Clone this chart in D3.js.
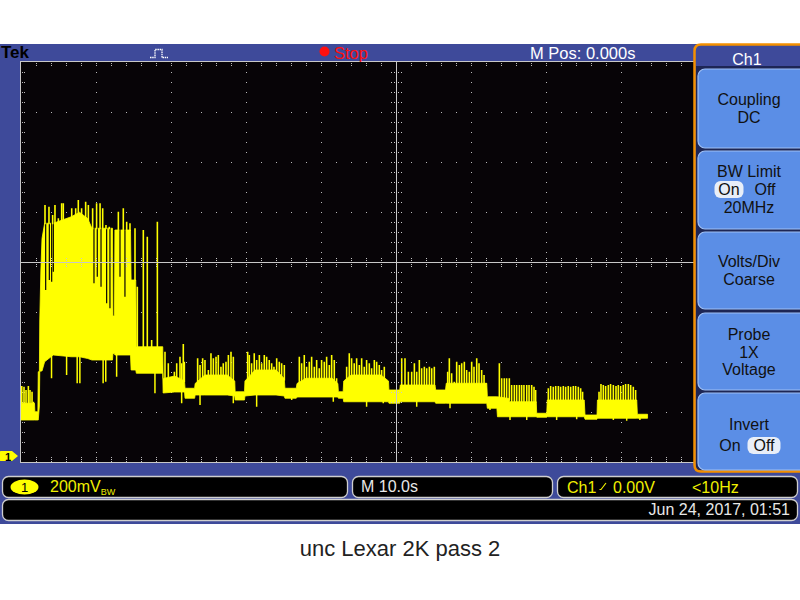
<!DOCTYPE html>
<html><head><meta charset="utf-8">
<script src="https://cdn.jsdelivr.net/npm/d3@7"></script>
<style>html,body{margin:0;padding:0;background:#fff;}svg{display:block;font-family:"Liberation Sans",Arial,sans-serif;}</style>
</head><body>
<svg id="c" width="800" height="600"></svg>
<script>
// ---- Trace data: time in seconds (10 s/div), voltage in mV (200 mV/div) ----
// solid band of the trace (linear between points)
const bandT  = [0,1.8,1.85,2.25,2.3,2.45,2.5,2.65,2.8,3.15,4.3,6.7,7.8,8.9,9.45,12.2,12.26,12.46,12.52,14.6,14.68,15.3,15.38,18.9,
  18.95,20.5,21.8, 21.87,23.15, 23.22,24.5,27.5,28.5, 28.55,29.8, 29.86,31.2,34.0,35.1, 35.19,36.7, 36.8,38.0,41.5,42.25,
  42.32,42.95, 43.03,44.0,48.0,49.0, 49.06,50.5, 50.57,55.2, 55.29,56.6, 56.7,62.1, 62.18,63.45, 63.53,65.1,65.15,68.7,
  68.76,70.1, 70.17,75.1, 75.2,76.8, 76.86,82.1, 82.18,83.54];
const bandLo = [144,144,144,144,144,200,337,340,340,377,404,397,397,390,384,384,410,410,404,404,344,344,331,331,
  252,256,256, 231,231, 244,244,244,240, 224,224, 240,244,244,240, 231,231, 236,236,236,236,
  231,231, 217,217,217,217, 211,211, 217,217, 211,211, 211,211, 191,191, 157,157,157,157,
  155,155, 157,157, 147,147, 151,151, 151,151];
const bandHi = [211,211,177,177,337,337,540,744,870,931,931,957,975,950,911,911,560,560,904,904,704,704,437,437,
  310,320,300, 271,271, 290,324,324,300, 257,257, 300,344,344,310, 271,271, 290,311,311,290,
  257,257, 300,324,324,300, 264,264, 284,284, 264,264, 291,291, 237,237, 237,230,217,217,
  171,171, 224,224, 164,164, 224,224, 167,167];
// narrow excursions above the band
const spikeT = [0.1,0.4,0.67,0.98,1.2,1.47,1.65,
 3.2,3.73,4.22,4.53,4.98,5.42,5.64,6.09,6.76,7.29,7.64,8.08,8.62,8.98,9.55,10.08,10.54,10.89,11.33,11.77,12.98,13.64,14.09,14.53,15.2,15.51,16.31,16.84,17.42,18.18,
 19.2,19.64,20.45,20.76,21.2,21.42,21.64,21.78,
 23.55,23.87,24.22,24.53,24.98,25.33,25.65,26.0,26.31,26.66,26.97,27.33,27.65,28.0,28.31,
 30.22,30.44,30.75,31.1,31.42,31.78,32.09,32.44,32.75,33.1,33.42,33.73,34.09,34.44,34.75,35.11,
 37.11,37.42,37.77,38.08,38.44,38.75,39.11,39.42,39.77,40.08,40.44,40.75,41.11,41.42,41.77,42.08,
 43.42,43.77,44.08,44.43,44.75,45.11,45.42,45.77,46.08,46.44,46.75,47.11,47.42,47.77,48.08,48.44,
 50.76,51.2,51.65,52.09,52.45,52.76,53.11,53.42,53.78,54.09,54.45,54.76,55.11,
 56.89,57.11,57.42,57.77,58.09,58.45,58.76,59.11,59.42,59.78,60.09,60.4,60.76,61.07,61.42,61.74,62.0,
 63.78,64.09,64.44,64.75,65.11,65.42,65.78,66.09,66.45,66.75,67.06,67.43,67.74,68.09,68.4,68.62,
 70.31,70.62,70.97,71.29,71.65,71.95,72.31,72.62,72.97,73.29,73.64,73.95,74.31,74.62,74.88,
 77.07,77.33,77.64,77.95,78.31,78.61,78.98,79.33,79.64,79.95,80.3,80.61,80.98,81.29,81.64,81.95];
const spikeV = [280,277,264,280,264,257,217,
 1004,997,964,1004,951,1011,1011,937,991,991,1024,991,1017,1004,991,1011,1011,991,924,917,977,991,937,931,911,677,904,877,464,937,
 417,371,337,371,397,371,448,377,
 391,364,391,384,344,411,391,397,404,357,371,377,404,417,397,
 417,404,371,411,384,404,371,404,397,384,371,357,391,377,371,364,
 397,371,404,357,377,397,357,384,351,384,377,397,364,404,384,311,
 357,411,391,371,391,364,391,357,384,371,351,384,377,364,344,357,
 391,391,337,337,371,337,384,351,357,351,357,351,357,
 337,391,331,297,377,364,371,377,344,337,377,357,391,371,344,324,291,
 371,311,311,311,311,284,284,284,284,284,284,284,284,284,277,264,
 271,280,277,280,280,277,280,277,280,277,280,280,277,271,257,
 257,288,284,280,284,288,284,280,284,280,284,288,288,284,277,264];
// excursions below the band
const dipT = [4.07,6.08,7.49,7.85,10.95,11.3,12.75,17.86,21.42,23.87,28.31,31.42,36.09,41.64,46.08,48.3,52.76,57.2,62.53,65.2,67.43,71.42,74.09,78.98,80.76,82.52];
const dipV = [311,324,291,291,291,297,317,251,211,204,211,197,224,217,197,211,197,191,184,144,144,144,147,144,141,144];
// dark gaps reaching down from the top of the band
const notchT = [3.29,3.78,4.09,4.31,9.73,10.17,10.67,11.42,11.86,13.2,13.86];
const notchV = [664,704,697,737,691,717,677,611,591,717,637];

// ---- Screen texts ----
const topTexts = {brand:"Tek", state:"Stop", mpos:"M Pos: 0.000s"};
const menuTitle = "Ch1";
const menuButtons = [
  [{t:"Coupling"},{t:"DC"}],
  [{t:"BW Limit"},{pair:["On","Off"],sel:0},{t:"20MHz"}],
  [{t:"Volts/Div"},{t:"Coarse"}],
  [{t:"Probe"},{t:"1X"},{t:"Voltage"}],
  [{t:"Invert"},{pair:["On","Off"],sel:1}]
];
const chScale = "200mV", bwMark = "BW", timeBase = "M 10.0s";
const trigSrc = "Ch1", trigLevel = "0.00V", trigFreq = "<10Hz";
const dateText = "Jun 24, 2017, 01:51";
const caption = "unc Lexar 2K pass 2";

// ---- Layout ----
const svg = d3.select("#c");
const BLUE = "#3e4a9a", SCREEN = "#070407", YEL = "#ffff00", GRID = "#b9b9b9";
const L = 21, R = 771, T = 62, B = 462, VIS_R = 694;
const x = d3.scaleLinear().domain([0,100]).range([L,R]);          // 10 s/div
const y = d3.scaleLinear().domain([0,200]).range([456,406]);       // 200 mV/div, ground at marker
const dx = d3.scaleLinear().domain([0,10]).range([L,R]);           // graticule divisions
const dy = d3.scaleLinear().domain([4,-4]).range([T,B]);

svg.append("rect").attr("width",800).attr("height",600).attr("fill","#fff");
svg.append("rect").attr("x",0).attr("y",44).attr("width",800).attr("height",480).attr("fill",BLUE);
svg.append("rect").attr("x",L).attr("y",T).attr("width",VIS_R-L).attr("height",B-T).attr("fill",SCREEN);

// graticule dots
const dots = [];
[1,2,3,4,6,7,8,9].forEach(i=>{ d3.range(1,40).forEach(j=>dots.push([dx(i), dy(4-j*0.2)])); });
[-3,-2,-1,1,2,3].forEach(k=>{ d3.range(1,50).forEach(m=>dots.push([dx(m*0.2), dy(k)])); });
d3.range(1,50).forEach(m=>{ [1,3].forEach(o=>dots.push([dx(m*0.2), T+o])); [1,3,5].forEach(o=>dots.push([dx(m*0.2), B-o])); });
d3.range(1,40).forEach(j=>{ [1,3].forEach(o=>dots.push([L+o, dy(4-j*0.2)])); });
svg.append("g").attr("fill",GRID).selectAll("rect").data(dots.filter(d=>d[0]<VIS_R-1)).join("rect")
  .attr("x",d=>Math.round(d[0])).attr("y",d=>Math.round(d[1])).attr("width",1).attr("height",1);

// trace
svg.append("clipPath").attr("id","scr").append("rect").attr("x",L).attr("y",T).attr("width",VIS_R-L).attr("height",B-T);
const tr = svg.append("g").attr("clip-path","url(#scr)");
const band = bandT.map((t,i)=>({t, lo:bandLo[i], hi:bandHi[i]}));
const at = t => {
  const i = Math.min(band.length-2, Math.max(0, d3.bisectRight(bandT,t)-1));
  const a = band[i], b = band[i+1], f = Math.max(0, Math.min(1, (t-a.t)/(b.t-a.t)));
  return {lo: a.lo+(b.lo-a.lo)*f, hi: a.hi+(b.hi-a.hi)*f};
};
tr.append("path").datum(band)
  .attr("d", d3.area().x(d=>x(d.t)).y0(d=>y(d.lo)).y1(d=>y(d.hi)))
  .attr("fill",YEL).attr("stroke",YEL).attr("stroke-width",0.8);
tr.selectAll("line.notch").data(notchT.map((t,i)=>({t,v:notchV[i]}))).join("line").attr("class","notch")
  .attr("x1",d=>x(d.t)).attr("x2",d=>x(d.t)).attr("y1",d=>y(at(d.t).hi)-1).attr("y2",d=>y(d.v))
  .attr("stroke",SCREEN).attr("stroke-width",1.2);
tr.selectAll("line.spike").data(spikeT.map((t,i)=>({t,v:spikeV[i]}))).join("line").attr("class","spike")
  .attr("x1",d=>x(d.t)).attr("x2",d=>x(d.t)).attr("y1",d=>y(at(d.t).hi)+1).attr("y2",d=>y(d.v))
  .attr("stroke",YEL).attr("stroke-width",1.6);
tr.selectAll("line.dip").data(dipT.map((t,i)=>({t,v:dipV[i]}))).join("line").attr("class","dip")
  .attr("x1",d=>x(d.t)).attr("x2",d=>x(d.t)).attr("y1",d=>y(at(d.t).lo)-1).attr("y2",d=>y(d.v))
  .attr("stroke",YEL).attr("stroke-width",1.5);

// center crosshair + frame
const cx = Math.round(dx(5))+0.5, cy = Math.round(dy(0))+0.5;
const fr = svg.append("g").attr("stroke","#c8c8c8").attr("stroke-width",1);
fr.append("line").attr("x1",L).attr("x2",VIS_R).attr("y1",cy).attr("y2",cy);
fr.append("line").attr("x1",cx).attr("x2",cx).attr("y1",T).attr("y2",B);
fr.append("line").attr("x1",L-1).attr("x2",VIS_R).attr("y1",T-0.5).attr("y2",T-0.5);
fr.append("line").attr("x1",L-0.5).attr("x2",L-0.5).attr("y1",T-1).attr("y2",B+1);
fr.append("line").attr("x1",L-1).attr("x2",VIS_R).attr("y1",B+0.5).attr("y2",B+0.5);
const cdots=[];
d3.range(1,50).forEach(m=>[-4,-2,2,4].forEach(o=>cdots.push([dx(m*0.2), cy-0.5+o])));
d3.range(1,40).forEach(j=>[-5,-2,2,5].forEach(o=>cdots.push([cx-0.5+o, dy(4-j*0.2)])));
svg.append("g").attr("fill","#c8c8c8").selectAll("rect").data(cdots.filter(d=>d[0]<VIS_R-1)).join("rect")
  .attr("x",d=>Math.round(d[0])).attr("y",d=>Math.round(d[1])).attr("width",1).attr("height",1);

// ground marker
const gm = svg.append("g").attr("transform",`translate(0,${y(0)})`);
gm.append("path").attr("d","M1,-5 H12 L18,0 L12,5 H1 Q-1,5 -1,3 V-3 Q-1,-5 1,-5Z").attr("fill",YEL);
gm.append("text").attr("x",8).attr("y",4.5).attr("text-anchor","middle").attr("font-size",11).attr("font-weight","bold").attr("fill","#000").text("1");

// top bar
svg.append("text").attr("x",1).attr("y",58).attr("font-size",17).attr("font-weight","bold").attr("fill","#000").text(topTexts.brand);
svg.append("path").attr("d","M150,57.5 H155 V49.5 H162 V57.5 H168").attr("fill","none").attr("stroke","#fff").attr("stroke-width",1.3).attr("stroke-dasharray","1.5,0.7");
svg.append("circle").attr("cx",324.5).attr("cy",51.5).attr("r",5).attr("fill","#ff1010");
svg.append("text").attr("x",334).attr("y",59).attr("font-size",16.5).attr("fill","#ff1010").text(topTexts.state);
svg.append("text").attr("x",530).attr("y",59).attr("font-size",16.5).attr("fill","#fff").text(topTexts.mpos);

// side menu
const mg = svg.append("g");
mg.append("rect").attr("x",696).attr("y",66).attr("width",110).attr("height",404).attr("fill","#1d2655");
mg.append("path").attr("d","M802,44.5 H701 Q694.5,44.5 694.5,51 V465 Q694.5,471.5 701,471.5 H802")
  .attr("fill","none").attr("stroke","#f39000").attr("stroke-width",2.5);
mg.append("text").attr("x",747).attr("y",65).attr("text-anchor","middle").attr("font-size",16).attr("fill","#fff").text(menuTitle);
const btnY = [[69,148],[151,229],[232,309],[313,390],[393,470]];
const lineY = [[105,123],[177,195,213],[267,285],[340,358,375],[430,451]];
menuButtons.forEach((lines,i)=>{
  const [y0,y1] = btnY[i];
  mg.append("rect").attr("x",698).attr("y",y0).attr("width",110).attr("height",y1-y0).attr("rx",7)
    .attr("fill","#5b8ee6").attr("stroke","#9fc0f5").attr("stroke-width",1.2);
  lines.forEach((ln,k)=>{
    const by = lineY[i][k];
    if(ln.t){
      mg.append("text").attr("x",749).attr("y",by).attr("text-anchor","middle").attr("font-size",16).attr("fill","#111").text(ln.t);
    } else {
      const xs = ln.sel===0 ? [729,765] : [730,764];
      const pw = ln.sel===0 ? 29 : 33;
      mg.append("rect").attr("x",xs[ln.sel]-pw/2).attr("y",by-14).attr("width",pw).attr("height",17).attr("rx",6).attr("fill","#e8eef8");
      ln.pair.forEach((p,q)=>mg.append("text").attr("x",xs[q]).attr("y",by).attr("text-anchor","middle").attr("font-size",16).attr("fill","#111").text(p));
    }
  });
});

// bottom readouts
const boxes = [[2.5,476.5,345,21],[352.5,476.5,200,21],[557.5,476.5,240,21],[2.5,499.5,795,21]];
svg.append("g").selectAll("rect").data(boxes).join("rect")
  .attr("x",d=>d[0]).attr("y",d=>d[1]).attr("width",d=>d[2]).attr("height",d=>d[3]).attr("rx",6)
  .attr("fill","#000").attr("stroke","#cfcfcf").attr("stroke-width",1.3);
svg.append("ellipse").attr("cx",24.5).attr("cy",487).attr("rx",14).attr("ry",7.5).attr("fill",YEL);
svg.append("text").attr("x",24.5).attr("y",492).attr("text-anchor","middle").attr("font-size",13).attr("fill","#000").text("1");
const t1 = svg.append("text").attr("x",50).attr("y",492).attr("font-size",16).attr("fill","#f0f000");
t1.append("tspan").text(chScale);
t1.append("tspan").attr("font-size",9).attr("dy",3).text(bwMark);
svg.append("text").attr("x",361).attr("y",492).attr("font-size",16).attr("fill","#e8e8e8").text(timeBase);
svg.append("text").attr("x",567).attr("y",493).attr("font-size",16).attr("fill","#f0f000").text(trigSrc);
svg.append("path").attr("d","M599.5,489.5 H601 L606,483").attr("fill","none").attr("stroke","#f0f000").attr("stroke-width",1.2);
svg.append("text").attr("x",613).attr("y",493).attr("font-size",16).attr("fill","#f0f000").text(trigLevel);
svg.append("text").attr("x",692).attr("y",493).attr("font-size",16).attr("fill","#f0f000").text(trigFreq);
svg.append("text").attr("x",790).attr("y",515).attr("text-anchor","end").attr("font-size",16).attr("fill","#e8e8e8").text(dateText);

// caption
svg.append("text").attr("x",400).attr("y",556).attr("text-anchor","middle").attr("font-size",22).attr("fill","#222").text(caption);
</script></body></html>
